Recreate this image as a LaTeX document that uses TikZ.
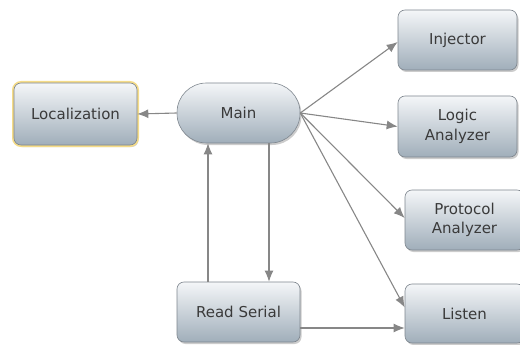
\documentclass[tikz,border=0pt]{standalone}
\usepackage{fontspec}
\setmainfont{DejaVu Sans}
\usetikzlibrary{arrows.meta, shadows, positioning}

\definecolor{boxtop}{HTML}{F4F6F8}
\definecolor{boxbot}{HTML}{A0AEBA}
\definecolor{boxline}{HTML}{7E868E}
\definecolor{edgegray}{HTML}{878787}
\definecolor{glow}{HTML}{F2D36A}
\definecolor{txt}{HTML}{3A3A3A}

\begin{document}
\begin{tikzpicture}[x=1pt,y=-1pt,
    block/.style={rectangle,rounded corners=7pt,draw=boxline,line width=0.6pt,
        top color=boxtop,bottom color=boxbot,minimum width=123pt,minimum height=60pt,
        align=center,text=txt,font=\fontsize{15}{19.5}\selectfont,
        drop shadow={opacity=0.4,shadow xshift=1.5pt,shadow yshift=-2pt}},
    link/.style={draw=edgegray,line width=1.1pt,-{Latex[length=11pt,width=9pt]}}]
    \useasboundingbox (0,0) rectangle (520,345);

    % boxes
    \node[block,preaction={draw=glow!80,line width=4pt},minimum height=62pt] (loc) at (75.5,114) {Localization};
    \node[block,rounded corners=29.5pt] (main) at (238.5,113) {Main};
    \node[block] (read) at (238.5,312) {Read Serial};
    \node[block,minimum width=119pt] (inj) at (457.5,40) {Injector};
    \node[block,minimum width=119pt,minimum height=61pt] (logic) at (457.5,126.5) {Logic\\Analyzer};
    \node[block,minimum width=119pt] (proto) at (464.5,220) {Protocol\\Analyzer};
    \node[block,minimum width=119pt,minimum height=59pt] (listen) at (464.5,313.5) {Listen};

    % connectors
    \draw[link] (main.west) -- (loc.east);
    \draw[link] ([xshift=-30.5pt]read.north) -- ([xshift=-30.5pt]main.south);
    \draw[link] ([xshift=30.5pt]main.south) -- ([xshift=30.5pt]read.north);
    \draw[link] (main.east) -- ([yshift=-2pt]inj.west);
    \draw[link] (main.east) -- (logic.west);
    \draw[link] (main.east) -- ([yshift=2pt]proto.west);
    \draw[link] (main.east) -- ([yshift=6pt]listen.west);
    \draw[link] ([yshift=-16pt]read.east) -- ([yshift=-14.5pt]listen.west);
\end{tikzpicture}
\end{document}
